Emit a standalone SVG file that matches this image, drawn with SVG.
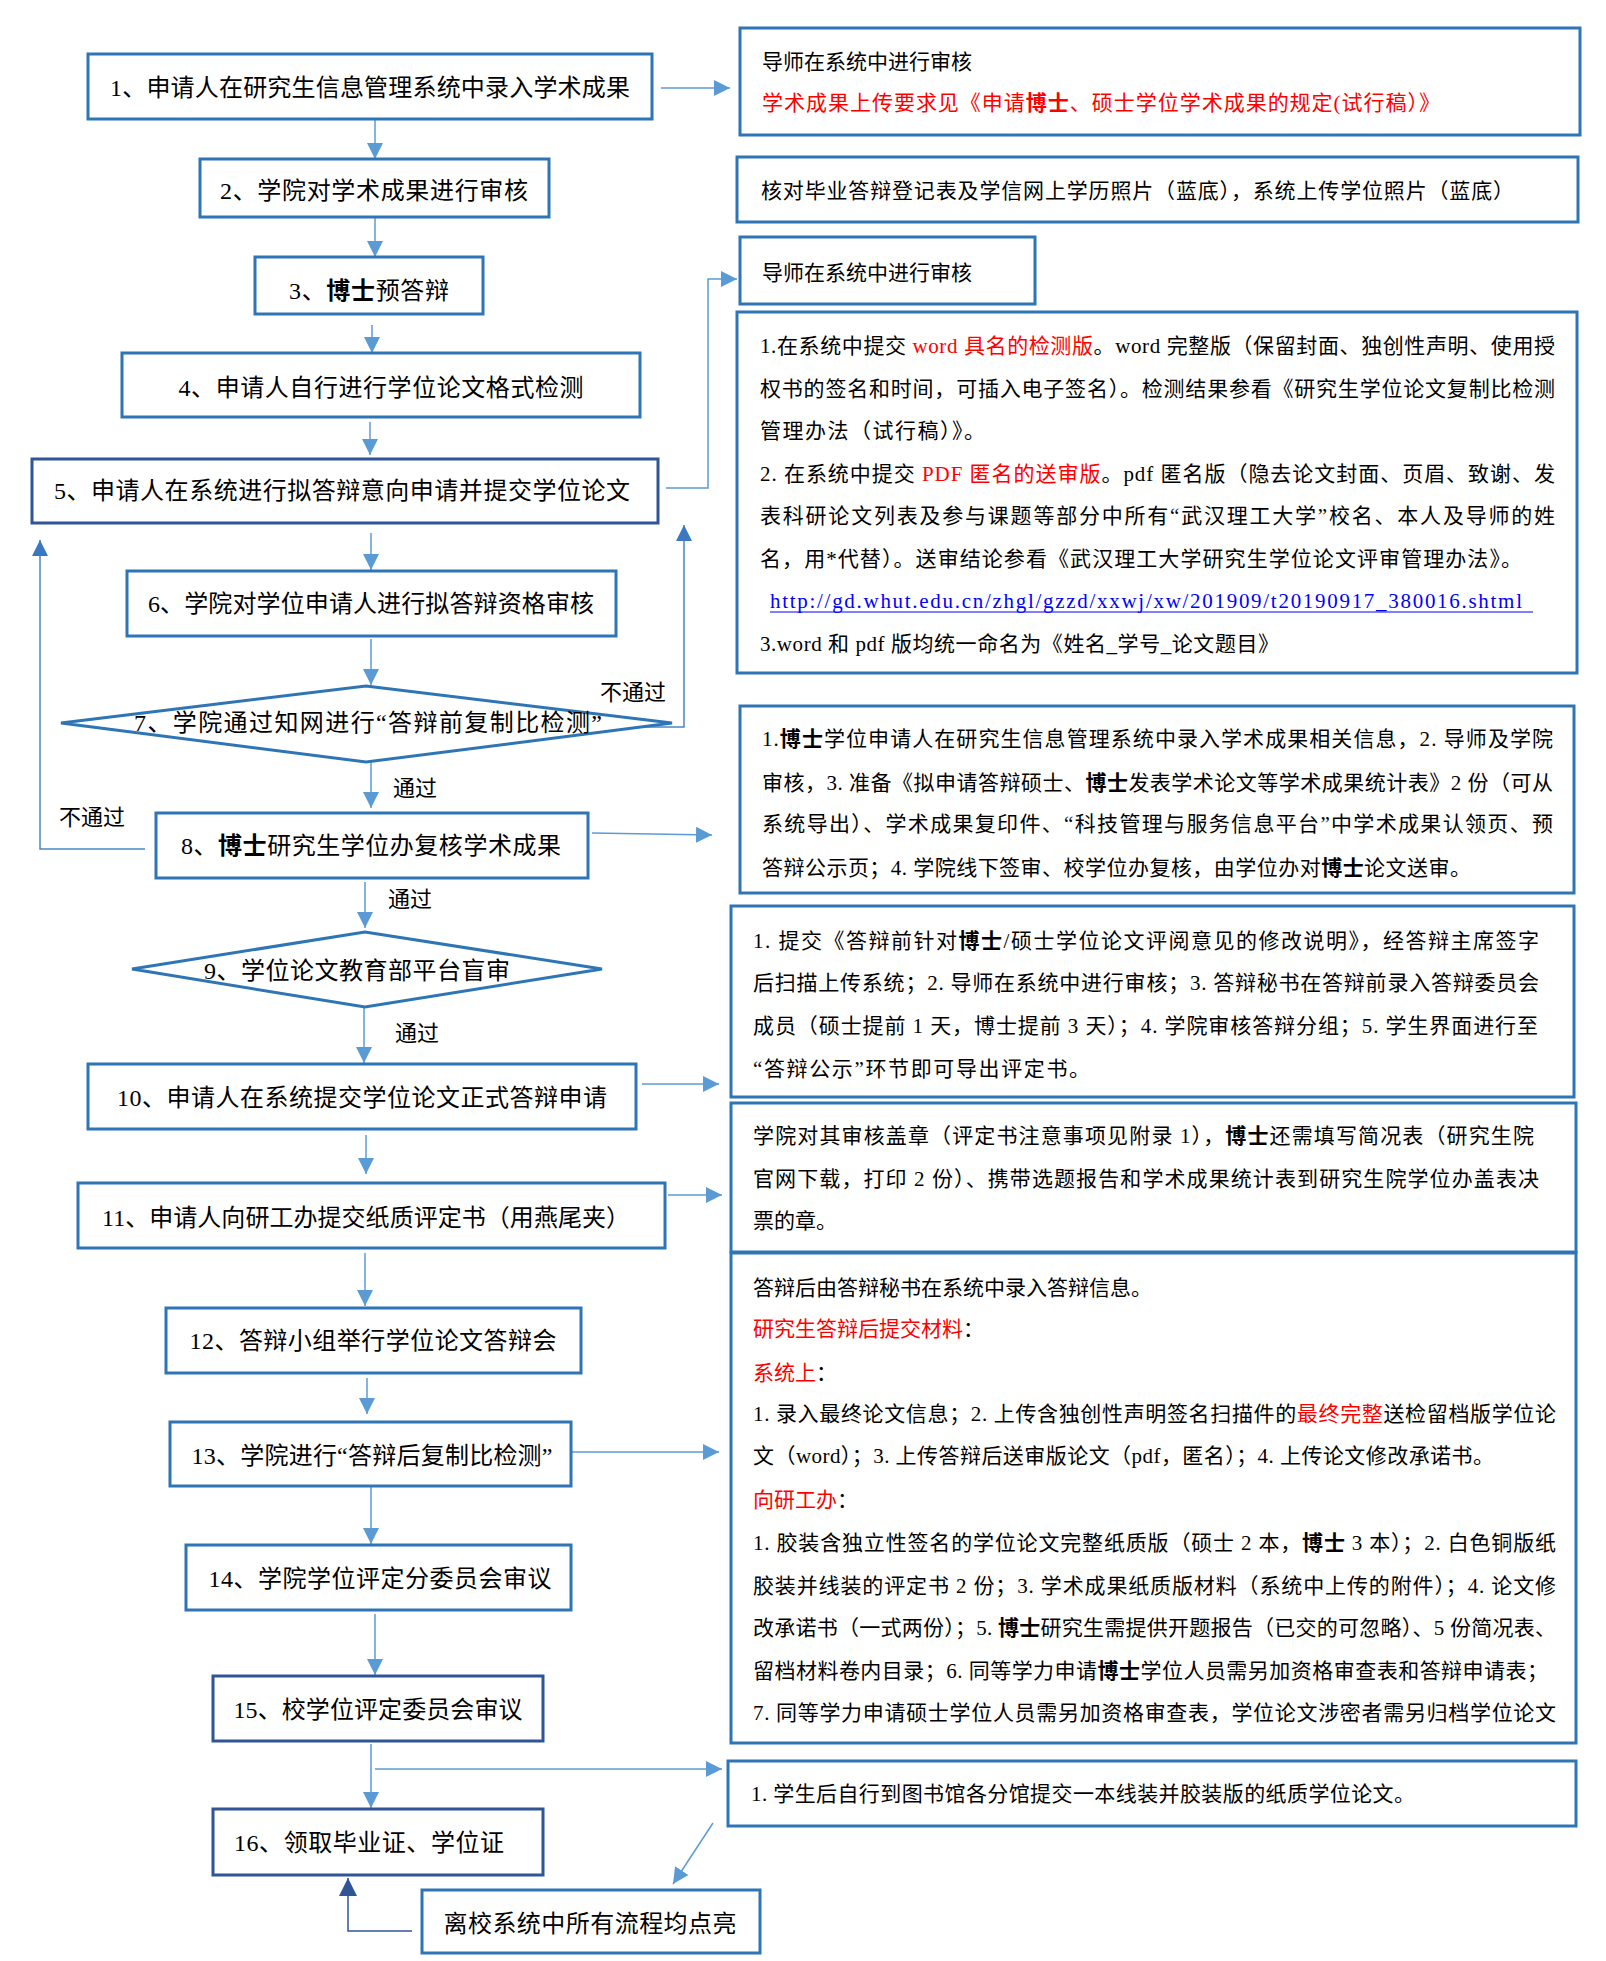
<svg xmlns="http://www.w3.org/2000/svg" width="1606" height="1961" viewBox="0 0 1606 1961">
<defs>
<style>
.box{fill:#fff;stroke:#2E75B6;stroke-width:3}
.dk{stroke:#2F5597}
.c{fill:none;stroke:#5B9BD5;stroke-width:1.5}
.cf{fill:none;stroke:#4A86C8;stroke-width:1.5}
.cn{fill:none;stroke:#2F5597;stroke-width:1.5}
text{font-family:"Liberation Serif","Noto Sans CJK SC",serif;fill:#000}
.t{font-size:24px;text-anchor:middle}
.s{font-size:21px}
.lbl{font-family:"Noto Sans CJK SC",sans-serif;font-size:22px}
.red{fill:#FF0000}
.b{font-weight:bold}
.url{fill:#0000FF}
</style>
<marker id="a" markerUnits="userSpaceOnUse" markerWidth="16" markerHeight="16" viewBox="0 0 16 16" refX="16" refY="8" orient="auto"><path d="M0,0 L16,8 L0,16 z" fill="#5B9BD5"/></marker>
<marker id="af" markerUnits="userSpaceOnUse" markerWidth="16" markerHeight="16" viewBox="0 0 16 16" refX="16" refY="8" orient="auto"><path d="M0,0 L16,8 L0,16 z" fill="#3A78C2"/></marker>
<marker id="an" markerUnits="userSpaceOnUse" markerWidth="18" markerHeight="18" viewBox="0 0 18 18" refX="18" refY="9" orient="auto"><path d="M0,0 L18,9 L0,18 z" fill="#2F5597"/></marker>
</defs>
<rect width="1606" height="1961" fill="#fff"/>

<g id="connectors">
<line class="c" x1="375" y1="119" x2="375" y2="159" marker-end="url(#a)"/>
<line class="c" x1="375" y1="217" x2="375" y2="257" marker-end="url(#a)"/>
<line class="c" x1="372" y1="325" x2="372" y2="353" marker-end="url(#a)"/>
<line class="c" x1="370" y1="422" x2="370" y2="455" marker-end="url(#a)"/>
<line class="c" x1="371" y1="533" x2="371" y2="570" marker-end="url(#a)"/>
<line class="c" x1="371" y1="639" x2="371" y2="685" marker-end="url(#a)"/>
<line class="c" x1="371" y1="762" x2="371" y2="808" marker-end="url(#a)"/>
<line class="c" x1="365" y1="882" x2="365" y2="928" marker-end="url(#a)"/>
<line class="c" x1="364" y1="1007" x2="364" y2="1063" marker-end="url(#a)"/>
<line class="c" x1="366" y1="1135" x2="366" y2="1174" marker-end="url(#a)"/>
<line class="c" x1="365" y1="1253" x2="365" y2="1306" marker-end="url(#a)"/>
<line class="c" x1="367" y1="1378" x2="367" y2="1414" marker-end="url(#a)"/>
<line class="c" x1="371" y1="1482" x2="371" y2="1544" marker-end="url(#a)"/>
<line class="c" x1="375" y1="1614" x2="375" y2="1675" marker-end="url(#a)"/>
<line class="c" x1="371" y1="1744" x2="371" y2="1808" marker-end="url(#a)"/>
<line class="c" x1="661" y1="88" x2="730" y2="88" marker-end="url(#a)"/>
<polyline class="c" points="666,488 708,488 708,279 737,279" marker-end="url(#a)"/>
<polyline class="cf" points="615,727 684,727 684,525" marker-end="url(#af)"/>
<polyline class="cf" points="145,849 40,849 40,540" marker-end="url(#af)"/>
<line class="c" x1="592" y1="833" x2="712" y2="835" marker-end="url(#a)"/>
<line class="c" x1="642" y1="1084" x2="719" y2="1084" marker-end="url(#a)"/>
<line class="c" x1="668" y1="1195" x2="722" y2="1195" marker-end="url(#a)"/>
<line class="c" x1="563" y1="1452" x2="719" y2="1452" marker-end="url(#a)"/>
<line class="c" x1="375" y1="1769" x2="722" y2="1769" marker-end="url(#a)"/>
<line class="c" x1="713" y1="1823" x2="673" y2="1884" marker-end="url(#a)"/>
<polyline class="cn" points="412,1931 348,1931 348,1878" marker-end="url(#an)"/>
<text class="lbl" x="600" y="700">不通过</text>
<text class="lbl" x="59" y="825">不通过</text>
<text class="lbl" x="393" y="796">通过</text>
<text class="lbl" x="388" y="907">通过</text>
<text class="lbl" x="395" y="1041">通过</text>
</g>

<g id="n1"><rect class="box" x="88" y="54" width="564" height="65"/><text class="t" x="370" y="96" textLength="520">1、申请人在研究生信息管理系统中录入学术成果</text></g>
<g id="n2"><rect class="box" x="200" y="159" width="349" height="58"/><text class="t" x="374" y="199" textLength="308">2、学院对学术成果进行审核</text></g>
<g id="n3"><rect class="box" x="255" y="257" width="228" height="57"/><text class="t" x="369" y="299" textLength="160">3、<tspan class="b">博士</tspan>预答辩</text></g>
<g id="n4"><rect class="box" x="122" y="353" width="518" height="64"/><text class="t" x="381" y="396" textLength="405">4、申请人自行进行学位论文格式检测</text></g>
<g id="n5"><rect class="box dk" x="32" y="459" width="626" height="64"/><text class="t" x="342" y="499" textLength="576">5、申请人在系统进行拟答辩意向申请并提交学位论文</text></g>
<g id="n6"><rect class="box" x="127" y="571" width="489" height="65"/><text class="t" x="371" y="612" textLength="446">6、学院对学位申请人进行拟答辩资格审核</text></g>
<g id="n7"><polygon class="box" points="61,723 366,686 672,723 366,762"/><text class="t" x="368" y="731" textLength="468">7、学院通过知网进行“答辩前复制比检测”</text></g>
<g id="n8"><rect class="box" x="156" y="813" width="432" height="65"/><text class="t" x="371" y="854" textLength="380">8、<tspan class="b">博士</tspan>研究生学位办复核学术成果</text></g>
<g id="n9"><polygon class="box" points="132,969 365,932 602,969 365,1007"/><text class="t" x="357" y="979" textLength="306">9、学位论文教育部平台盲审</text></g>
<g id="n10"><rect class="box" x="88" y="1064" width="548" height="65"/><text class="t" x="362" y="1106" textLength="490">10、申请人在系统提交学位论文正式答辩申请</text></g>
<g id="n11"><rect class="box" x="78" y="1183" width="587" height="65"/><text class="t" x="366" y="1226" textLength="528">11、申请人向研工办提交纸质评定书（用燕尾夹）</text></g>
<g id="n12"><rect class="box" x="166" y="1308" width="415" height="65"/><text class="t" x="373" y="1349" textLength="367">12、答辩小组举行学位论文答辩会</text></g>
<g id="n13"><rect class="box" x="170" y="1422" width="401" height="64"/><text class="t" x="372" y="1464" textLength="361">13、学院进行“答辩后复制比检测”</text></g>
<g id="n14"><rect class="box" x="186" y="1545" width="385" height="65"/><text class="t" x="380" y="1587" textLength="343">14、学院学位评定分委员会审议</text></g>
<g id="n15"><rect class="box dk" x="213" y="1676" width="330" height="65"/><text class="t" x="378" y="1718" textLength="289">15、校学位评定委员会审议</text></g>
<g id="n16"><rect class="box dk" x="213" y="1809" width="330" height="66"/><text class="t" x="369" y="1851" textLength="270">16、领取毕业证、学位证</text></g>
<g id="n17"><rect class="box" x="422" y="1890" width="338" height="63"/><text class="t" x="590" y="1932" textLength="293">离校系统中所有流程均点亮</text></g>

<g id="r1"><rect class="box" x="740" y="28" width="840" height="107"/>
<text class="s" x="762" y="69">导师在系统中进行审核</text>
<text class="s red" x="762" y="110" textLength="678">学术成果上传要求见《申请<tspan class="b">博士</tspan>、硕士学位学术成果的规定(试行稿）》</text></g>
<g id="r2"><rect class="box" x="737" y="157" width="841" height="65"/>
<text class="s" x="761" y="198" textLength="753">核对毕业答辩登记表及学信网上学历照片（蓝底），系统上传学位照片（蓝底）</text></g>
<g id="r3"><rect class="box" x="740" y="237" width="295" height="67"/>
<text class="s" x="762" y="280">导师在系统中进行审核</text></g>
<g id="r4"><rect class="box" x="737" y="312" width="840" height="361"/>
<text class="s" x="760" y="353" textLength="795">1.在系统中提交 <tspan class="red">word 具名的检测版</tspan>。word 完整版（保留封面、独创性声明、使用授</text>
<text class="s" x="760" y="396" textLength="795">权书的签名和时间，可插入电子签名）。检测结果参看《研究生学位论文复制比检测</text>
<text class="s" x="760" y="438" textLength="225">管理办法（试行稿）》。</text>
<text class="s" x="760" y="481" textLength="795">2. 在系统中提交 <tspan class="red">PDF 匿名的送审版</tspan>。pdf 匿名版（隐去论文封面、页眉、致谢、发</text>
<text class="s" x="760" y="523" textLength="795">表科研论文列表及参与课题等部分中所有“武汉理工大学”校名、本人及导师的姓</text>
<text class="s" x="760" y="566" textLength="762">名，用*代替）。送审结论参看《武汉理工大学研究生学位论文评审管理办法》。</text>
<text class="s url" x="770" y="608" textLength="752">http://gd.whut.edu.cn/zhgl/gzzd/xxwj/xw/201909/t20190917_380016.shtml</text>
<line x1="770" y1="612" x2="1533" y2="612" stroke="#0000FF" stroke-width="1.2"/>
<text class="s" x="760" y="651" textLength="519">3.word 和 pdf 版均统一命名为《姓名_学号_论文题目》</text></g>
<g id="r5"><rect class="box" x="740" y="706" width="834" height="187"/>
<text class="s" x="762" y="746" textLength="791">1.<tspan class="b">博士</tspan>学位申请人在研究生信息管理系统中录入学术成果相关信息，2. 导师及学院</text>
<text class="s" x="762" y="790" textLength="791">审核，3. 准备《拟申请答辩硕士、<tspan class="b">博士</tspan>发表学术论文等学术成果统计表》2 份（可从</text>
<text class="s" x="762" y="831" textLength="791">系统导出）、学术成果复印件、“科技管理与服务信息平台”中学术成果认领页、预</text>
<text class="s" x="762" y="875" textLength="709">答辩公示页；4. 学院线下签审、校学位办复核，由学位办对<tspan class="b">博士</tspan>论文送审。</text></g>
<g id="r6"><rect class="box" x="731" y="906" width="843" height="191"/>
<text class="s" x="753" y="948" textLength="786">1. 提交《答辩前针对<tspan class="b">博士</tspan>/硕士学位论文评阅意见的修改说明》，经答辩主席签字</text>
<text class="s" x="753" y="990" textLength="786">后扫描上传系统；2. 导师在系统中进行审核；3. 答辩秘书在答辩前录入答辩委员会</text>
<text class="s" x="753" y="1033" textLength="785">成员（硕士提前 1 天，博士提前 3 天）；4. 学院审核答辩分组；5. 学生界面进行至</text>
<text class="s" x="753" y="1076" textLength="337">“答辩公示”环节即可导出评定书。</text></g>
<g id="r7"><rect class="box" x="731" y="1103" width="845" height="149"/>
<text class="s" x="753" y="1143" textLength="781">学院对其审核盖章（评定书注意事项见附录 1），<tspan class="b">博士</tspan>还需填写简况表（研究生院</text>
<text class="s" x="753" y="1186" textLength="786">官网下载，打印 2 份）、携带选题报告和学术成果统计表到研究生院学位办盖表决</text>
<text class="s" x="753" y="1228">票的章。</text></g>
<g id="r8"><rect class="box" x="731" y="1253" width="845" height="490"/>
<text class="s" x="753" y="1295">答辩后由答辩秘书在系统中录入答辩信息。</text>
<text class="s" x="753" y="1336"><tspan class="red">研究生答辩后提交材料</tspan>：</text>
<text class="s" x="753" y="1380"><tspan class="red">系统上</tspan>：</text>
<text class="s" x="753" y="1421" textLength="803">1. 录入最终论文信息；2. 上传含独创性声明签名扫描件的<tspan class="red">最终完整</tspan>送检留档版学位论</text>
<text class="s" x="753" y="1463" textLength="741">文（word）；3. 上传答辩后送审版论文（pdf，匿名）；4. 上传论文修改承诺书。</text>
<text class="s" x="753" y="1507"><tspan class="red">向研工办</tspan>：</text>
<text class="s" x="753" y="1550" textLength="803">1. 胶装含独立性签名的学位论文完整纸质版（硕士 2 本，<tspan class="b">博士</tspan> 3 本）；2. 白色铜版纸</text>
<text class="s" x="753" y="1593" textLength="803">胶装并线装的评定书 2 份；3. 学术成果纸质版材料（系统中上传的附件）；4. 论文修</text>
<text class="s" x="753" y="1635" textLength="803">改承诺书（一式两份）；5. <tspan class="b">博士</tspan>研究生需提供开题报告（已交的可忽略）、5 份简况表、</text>
<text class="s" x="753" y="1678" textLength="795">留档材料卷内目录；6. 同等学力申请<tspan class="b">博士</tspan>学位人员需另加资格审查表和答辩申请表；</text>
<text class="s" x="753" y="1720" textLength="803">7. 同等学力申请硕士学位人员需另加资格审查表，学位论文涉密者需另归档学位论文</text></g>
<g id="r9"><rect class="box" x="728" y="1761" width="848" height="65"/>
<text class="s" x="751" y="1801" textLength="664">1. 学生后自行到图书馆各分馆提交一本线装并胶装版的纸质学位论文。</text></g>
</svg>
